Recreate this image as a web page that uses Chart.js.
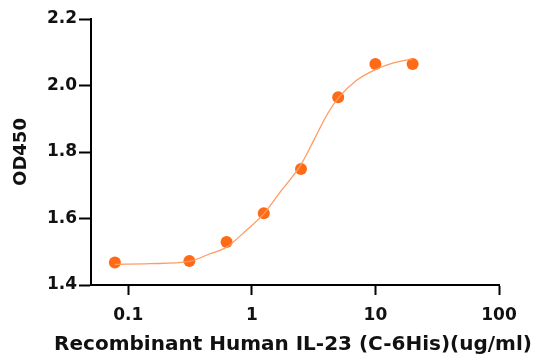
<!DOCTYPE html>
<html>
<head>
<meta charset="utf-8">
<script src="https://cdn.jsdelivr.net/npm/chart.js@4"></script>
<style>
  html,body{margin:0;padding:0;background:#fff}
  #wrap{width:541px;height:363px}
</style>
</head>
<body>
<div id="wrap"><canvas id="c" width="541" height="363"></canvas></div>
<script>
// measured points (ug/ml, OD450)
const conc = [0.078, 0.3125, 0.625, 1.25, 2.5, 5, 10, 20];
const od   = [1.468, 1.472, 1.529, 1.616, 1.749, 1.965, 2.065, 2.065];

// fitted curve
const fitX = [0.078, 0.15, 0.31, 0.46, 0.625, 0.9, 1.25, 1.7, 2.5, 3.2, 4.1, 5, 7, 10, 14, 20];
const fitY = [1.462, 1.464, 1.471, 1.494, 1.514, 1.564, 1.614, 1.680, 1.762, 1.838, 1.915, 1.962, 2.015, 2.048, 2.068, 2.080];

const xTicks = [0.1, 1, 10, 100];
const yTicks = [1.4, 1.6, 1.8, 2.0, 2.2];

const FONT = '"DejaVu Sans", sans-serif';
const X_TITLE = 'Recombinant Human IL-23 (C-6His)(ug/ml)';

// x title drawn by hand: the built-in one gets squeezed to the axis width
const xTitlePlugin = {
  id: 'xTitle',
  afterDraw(chart){
    const ctx = chart.ctx, a = chart.chartArea;
    ctx.save();
    ctx.font = 'bold 20px ' + FONT;
    ctx.fillStyle = '#111';
    ctx.textAlign = 'center';
    ctx.textBaseline = 'middle';
    ctx.fillText(X_TITLE, (a.left + a.right) / 2 - 2, 345);
    ctx.restore();
  }
};

new Chart(document.getElementById('c'), {
  type: 'scatter',
  data: {
    datasets: [
      {
        type: 'line',
        data: fitX.map((x, i) => ({x, y: fitY[i]})),
        borderColor: '#ff9b62', borderWidth: 1.3,
        pointRadius: 0, cubicInterpolationMode: 'monotone', fill: false
      },
      {
        data: conc.map((x, i) => ({x, y: od[i]})),
        backgroundColor: '#ff6a17', borderWidth: 0,
        pointRadius: 6
      }
    ]
  },
  plugins: [xTitlePlugin],
  options: {
    responsive: false, animation: false,
    layout: {padding: {top: 19, right: 42, left: 0, bottom: 0}},
    plugins: {legend: {display: false}, tooltip: {enabled: false}},
    scales: {
      x: {
        type: 'logarithmic', min: 0.05, max: 100,
        afterBuildTicks: s => { s.ticks = xTicks.map(v => ({value: v})); },
        afterFit: s => { s.height = 78; },
        ticks: {
          color: '#111', font: {family: FONT, size: 17, weight: 'bold'},
          padding: 10, maxRotation: 0, autoSkip: false,
          callback: v => String(v)
        },
        grid: {drawOnChartArea: false, color: '#000', tickLength: 10, tickWidth: 2},
        border: {color: '#000', width: 2}
      },
      y: {
        min: 1.4, max: 2.2,
        afterBuildTicks: s => { s.ticks = yTicks.map(v => ({value: v})); },
        afterFit: s => { s.width = 91; },
        ticks: {
          color: '#111', font: {family: FONT, size: 17, weight: 'bold'},
          padding: 2, callback: v => v.toFixed(1)
        },
        grid: {drawOnChartArea: false, color: '#000', tickLength: 12, tickWidth: 2},
        border: {color: '#000', width: 2},
        title: {
          display: true, text: 'OD450',
          color: '#111', font: {family: FONT, size: 18, weight: 'bold'},
          padding: {top: 11, bottom: 0}
        }
      }
    }
  }
});
</script>
</body>
</html>
